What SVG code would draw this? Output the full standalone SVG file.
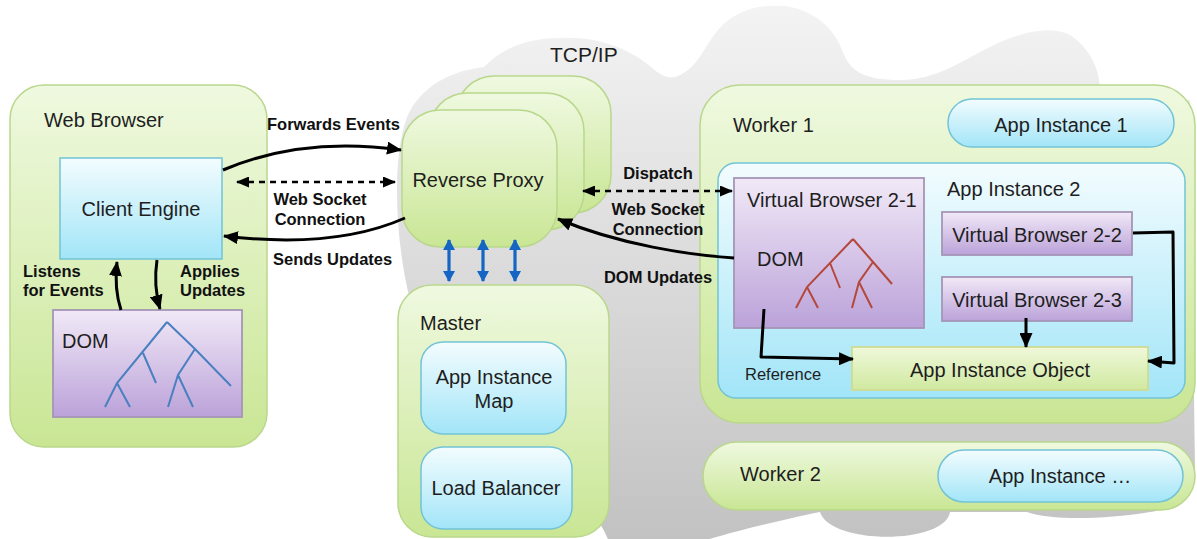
<svg xmlns="http://www.w3.org/2000/svg" width="1197" height="539" viewBox="0 0 1197 539">
  <defs>
    <linearGradient id="gCloud" gradientUnits="userSpaceOnUse" x1="0" y1="0" x2="0" y2="539">
      <stop offset="0" stop-color="#f4f4f4"/>
      <stop offset="1" stop-color="#c2c2c2"/>
    </linearGradient>
    <linearGradient id="gGreen" x1="0" y1="0" x2="0" y2="1">
      <stop offset="0" stop-color="#eff9e0"/>
      <stop offset="1" stop-color="#c9e694"/>
    </linearGradient>
    <linearGradient id="gCyan" x1="0" y1="0" x2="0" y2="1">
      <stop offset="0" stop-color="#f3fcfe"/>
      <stop offset="1" stop-color="#a2e5f8"/>
    </linearGradient>
    <linearGradient id="gPurple" x1="0" y1="0" x2="0" y2="1">
      <stop offset="0" stop-color="#f1e9f7"/>
      <stop offset="1" stop-color="#bba2d9"/>
    </linearGradient>
    <linearGradient id="gObject" x1="0" y1="0" x2="0" y2="1">
      <stop offset="0" stop-color="#eff8da"/>
      <stop offset="1" stop-color="#d0e9a0"/>
    </linearGradient>
    <marker id="arrow" markerUnits="userSpaceOnUse" markerWidth="15" markerHeight="13" refX="14" refY="6.5" orient="auto-start-reverse">
      <path d="M0,0 L15,6.5 L0,13 Z" fill="#000"/>
    </marker>
    <marker id="arrowSmall" markerUnits="userSpaceOnUse" markerWidth="13" markerHeight="11" refX="12" refY="5.5" orient="auto-start-reverse">
      <path d="M0,0 L13,5.5 L0,11 Z" fill="#000"/>
    </marker>
    <marker id="arrowBlue" markerUnits="userSpaceOnUse" markerWidth="11" markerHeight="12" refX="10" refY="6" orient="auto-start-reverse">
      <path d="M0,0 L11,6 L0,12 Z" fill="#1565c4"/>
    </marker>
  </defs>
  <style>
    .green { fill: url(#gGreen); stroke: #b9d78c; stroke-width: 1.5; }
    .cyan { fill: url(#gCyan); stroke: #72c3d6; stroke-width: 1.5; }
    .purple { fill: url(#gPurple); stroke: #a595b6; stroke-width: 1.8; }
    .object { fill: url(#gObject); stroke: #cfdc90; stroke-width: 1.8; }
    .t { font-family: "Liberation Sans", Arial, sans-serif; font-size: 20px; fill: #1e1e1e; }
    .lbl { font-family: "Liberation Sans", Arial, sans-serif; font-size: 16.5px; font-weight: bold; fill: #111; }
    .mid { text-anchor: middle; }
    .edge { fill: none; stroke: #000; stroke-width: 3; stroke-linejoin: round; }
    .dash { fill: none; stroke: #000; stroke-width: 2.6; stroke-dasharray: 6 5; }
    .blue { fill: none; stroke: #1565c4; stroke-width: 3.2; }
    .treeBlue { fill: none; stroke: #4a7fc0; stroke-width: 2; }
    .treeRed { fill: none; stroke: #b5473c; stroke-width: 2; }
  </style>

  <!-- network cloud behind the server side -->
  <g id="tcpip">
    <path fill="url(#gCloud)" d="M410,300 C395,240 392,160 406,120 C415,95 440,72 484,67 C500,50 525,38 560,38 C600,36 630,50 650,66 C660,75 668,80 678,76 C698,68 705,45 718,30 C735,10 760,4 785,6 C815,10 835,30 842,50 C850,70 860,80 901,80 C935,80 960,62 990,47 C1020,32 1050,25 1070,35 C1090,48 1100,70 1100,90 L1190,100 L1195,470 C1180,500 1160,512 1150,512 C1100,520 1050,520 1027,512 L950,512 C945,545 830,545 820,512 C780,520 720,535 690,545 L610,545 C590,480 470,420 410,300 Z"/>
    <text class="t" x="550" y="62" style="font-size:21px">TCP/IP</text>
  </g>

  <!-- client side -->
  <g id="web-browser">
    <rect class="green" x="10" y="85" width="257" height="362" rx="34"/>
    <text class="t" x="44" y="127">Web Browser</text>
  </g>
  <g id="client-engine">
    <rect class="cyan" x="60" y="158" width="162" height="101"/>
    <text class="t mid" x="141" y="216">Client Engine</text>
  </g>
  <g id="dom">
    <rect class="purple" x="53" y="310" width="189" height="107"/>
    <text class="t" x="62" y="348">DOM</text>
    <path class="treeBlue" d="M167,322 L117,383 L105,407 M117,383 L130,407 M143,353 L156,383 M167,322 L195,349 L231,386 M195,349 L178,375 L168,407 M178,375 L193,407"/>
  </g>

  <!-- reverse proxy pool -->
  <g id="reverse-proxy">
    <rect class="green" x="456" y="76" width="155" height="137" rx="38"/>
    <rect class="green" x="429" y="93" width="155" height="137" rx="38"/>
    <rect class="green" x="402" y="110" width="155" height="137" rx="38"/>
    <text class="t mid" x="478" y="187">Reverse Proxy</text>
  </g>

  <!-- master -->
  <g id="master">
    <rect class="green" x="398" y="285" width="211" height="252" rx="34"/>
    <text class="t" x="420" y="330">Master</text>
  </g>
  <g id="app-instance-map">
    <rect class="cyan" x="421" y="342" width="145" height="92" rx="22"/>
    <text class="t mid" x="494" y="384">App Instance</text>
    <text class="t mid" x="494" y="408">Map</text>
  </g>
  <g id="load-balancer">
    <rect class="cyan" x="421" y="447" width="151" height="82" rx="22"/>
    <text class="t mid" x="496" y="495">Load Balancer</text>
  </g>

  <!-- worker 1 -->
  <g id="worker-1">
    <rect class="green" x="700" y="85" width="495" height="338" rx="40"/>
    <text class="t" x="733" y="132">Worker 1</text>
  </g>
  <g id="app-instance-1">
    <rect class="cyan" x="948" y="99" width="226" height="48" rx="24"/>
    <text class="t mid" x="1061" y="132">App Instance 1</text>
  </g>
  <g id="app-instance-2">
    <rect class="cyan" x="718" y="163" width="467" height="235" rx="18"/>
    <text class="t" x="947" y="196">App Instance 2</text>
  </g>
  <g id="virtual-browser-2-1">
    <rect class="purple" x="734" y="178" width="190" height="150"/>
    <text class="t" x="747" y="207">Virtual Browser 2-1</text>
    <text class="t" x="757" y="266">DOM</text>
    <path class="treeRed" d="M853,239 L807,287 L796,308 M807,287 L818,308 M830,263 L840,288 M853,239 L873,262 L892,284 M873,262 L859,282 L852,308 M859,282 L872,308"/>
  </g>
  <g id="virtual-browser-2-2">
    <rect class="purple" x="942" y="212" width="190" height="43"/>
    <text class="t mid" x="1037" y="242">Virtual Browser 2-2</text>
  </g>
  <g id="virtual-browser-2-3">
    <rect class="purple" x="942" y="277" width="190" height="44"/>
    <text class="t mid" x="1037" y="307">Virtual Browser 2-3</text>
  </g>
  <g id="app-instance-object">
    <rect class="object" x="852" y="347" width="296" height="43"/>
    <text class="t mid" x="1000" y="377">App Instance Object</text>
  </g>

  <!-- worker 2 -->
  <g id="worker-2">
    <rect class="green" x="703" y="442" width="492" height="68" rx="34"/>
    <text class="t" x="740" y="481">Worker 2</text>
  </g>
  <g id="app-instance-n">
    <rect class="cyan" x="938" y="450" width="245" height="52" rx="26"/>
    <text class="t mid" x="1060" y="483">App Instance …</text>
  </g>

  <!-- connectors -->
  <g id="connectors">
    <path class="edge" d="M121,310 C116,295 115,280 117,262" marker-end="url(#arrow)"/>
    <path class="edge" d="M157,260 C154,280 156,295 160,309" marker-end="url(#arrow)"/>
    <path class="edge" d="M223,170 C270,150 330,140 401,150" marker-end="url(#arrow)"/>
    <path class="dash" d="M237,182 L395,182" marker-start="url(#arrowSmall)" marker-end="url(#arrowSmall)"/>
    <path class="edge" d="M405,218 C360,238 300,245 224,236" marker-end="url(#arrow)"/>
    <path class="dash" d="M583,191 L732,191" marker-start="url(#arrowSmall)" marker-end="url(#arrowSmall)"/>
    <path class="edge" d="M734,258 C690,255 620,245 558,219" marker-end="url(#arrow)"/>
    <path class="blue" d="M449,240 L449,281" marker-start="url(#arrowBlue)" marker-end="url(#arrowBlue)"/>
    <path class="blue" d="M483,240 L483,281" marker-start="url(#arrowBlue)" marker-end="url(#arrowBlue)"/>
    <path class="blue" d="M515,240 L515,281" marker-start="url(#arrowBlue)" marker-end="url(#arrowBlue)"/>
    <path class="edge" d="M764,309 L761,357 L853,359" marker-end="url(#arrow)"/>
    <path class="edge" d="M1026,318 L1026,347" marker-end="url(#arrow)"/>
    <path class="edge" d="M1133,233 L1173,232 L1174,363 L1148,361" marker-end="url(#arrow)"/>
  </g>

  <!-- connector labels -->
  <g id="connector-labels">
    <text class="lbl" x="23" y="277">Listens</text>
    <text class="lbl" x="23" y="296">for Events</text>
    <text class="lbl" x="180" y="277">Applies</text>
    <text class="lbl" x="180" y="296">Updates</text>
    <text class="lbl" x="267" y="130">Forwards Events</text>
    <text class="lbl mid" x="320" y="205">Web Socket</text>
    <text class="lbl mid" x="320" y="225">Connection</text>
    <text class="lbl" x="273" y="265">Sends Updates</text>
    <text class="lbl mid" x="658" y="179">Dispatch</text>
    <text class="lbl mid" x="658" y="215">Web Socket</text>
    <text class="lbl mid" x="658" y="235">Connection</text>
    <text class="lbl mid" x="658" y="283">DOM Updates</text>
    <text class="t" x="745" y="380" style="font-size:16.5px">Reference</text>
  </g>
</svg>
